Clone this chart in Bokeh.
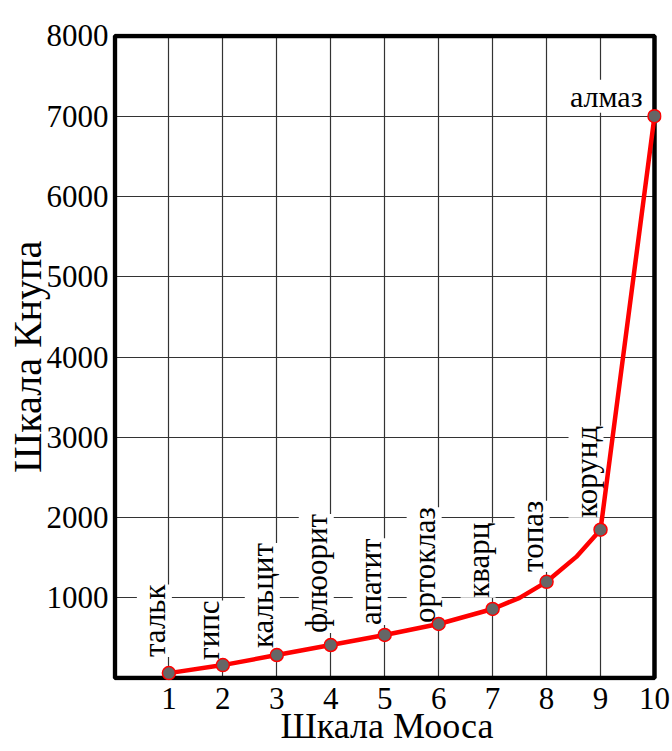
import math
from bokeh.plotting import figure
from bokeh.models import Range1d, FixedTicker, ColumnDataSource, LabelSet, Label, BoxAnnotation
from bokeh.embed import file_html
from bokeh.resources import INLINE

# data
mohs = [1, 2, 3, 4, 5, 6, 7, 8, 9, 10]
knoop = [62, 162, 287, 412, 537, 674, 861, 1199, 1848, 7000]
minerals = ["тальк", "гипс", "кальцит", "флюорит", "апатит",
            "ортоклаз", "кварц", "топаз", "корунд", "алмаз"]
# red curve
curve_x = [1, 2, 3, 4, 5, 6, 7, 7.5, 8, 8.55, 9, 10]
curve_y = [62, 162, 287, 412, 537, 674, 861, 1000, 1199, 1510, 1848, 7000]
# where each rotated name starts (Knoop units)
label_start = [262, 225, 375, 562, 662, 687, 1000, 1323, 1998]

x_ticks = [1, 2, 3, 4, 5, 6, 7, 8, 9, 10]
y_ticks = [1000, 2000, 3000, 4000, 5000, 6000, 7000, 8000]
x_lo, x_hi = 0, 10
y_lo, y_hi = 0, 8000

FONT = "Liberation Serif"

p = figure(width=672, height=751, output_backend="svg", toolbar_location=None,
           x_range=Range1d(-0.045, 10.13), y_range=Range1d(-30, 8030),
           min_border_left=112, min_border_right=11,
           min_border_top=33, min_border_bottom=71,
           background_fill_color="white", border_fill_color="white")

p.outline_line_color = None

for axes in (p.xaxis, p.yaxis):
    axes.axis_line_color = None
    axes.major_tick_line_color = None
    axes.minor_tick_line_color = None
    axes.major_tick_out = 0
    axes.major_tick_in = 0
    axes.minor_tick_out = 0
    axes.minor_tick_in = 0
    axes.major_label_text_font = FONT
    axes.major_label_text_font_size = "31px"
    axes.major_label_text_font_style = "normal"
    axes.major_label_text_color = "black"
    axes.axis_label_text_font = FONT
    axes.axis_label_text_font_style = "normal"
    axes.axis_label_text_color = "black"

p.xaxis.axis_label_text_font_size = "36px"
p.yaxis.axis_label_text_font_size = "40px"
p.xaxis.ticker = FixedTicker(ticks=x_ticks)
p.yaxis.ticker = FixedTicker(ticks=y_ticks)
p.xaxis.axis_label = "Шкала Мооса"
p.yaxis.axis_label = "Шкала Кнупа"
p.xaxis.major_label_standoff = 7
p.yaxis.major_label_standoff = 4
p.xaxis.axis_label_standoff = -6
p.yaxis.axis_label_standoff = -6

p.xgrid.ticker = FixedTicker(ticks=x_ticks[:-1])
p.ygrid.ticker = FixedTicker(ticks=y_ticks[:-1])
p.xgrid.cross_bounds = (y_lo, y_hi)
p.ygrid.cross_bounds = (x_lo, x_hi)
for g in (p.xgrid[0], p.ygrid[0]):
    g.grid_line_color = "#333333"
    g.grid_line_width = 1.2
    g.grid_line_alpha = 1.0

# frame
p.add_layout(BoxAnnotation(left=x_lo, right=x_hi, bottom=y_lo, top=y_hi,
                           fill_alpha=0, fill_color=None,
                           line_color="black", line_alpha=1.0, line_width=4.5,
                           level="underlay"))

# rotated mineral names (white background hides the grid)
lsrc = ColumnDataSource(dict(x=mohs[:9], y=label_start, t=minerals[:9]))
labels = LabelSet(x="x", y="y", text="t", source=lsrc, angle=math.pi / 2,
                  text_align="left", text_baseline="alphabetic", x_offset=-4,
                  text_font=FONT, text_font_size="31px", text_color="black",
                  background_fill_color="white", level="underlay")
p.add_layout(labels)

p.add_layout(Label(x=mohs[9], y=knoop[9], text=minerals[9], x_offset=-12, y_offset=20,
                   text_align="right", text_baseline="alphabetic",
                   text_font=FONT, text_font_size="30px", text_color="black",
                   background_fill_color="white", level="underlay"))

p.line(curve_x, curve_y, line_color="#ff0000", line_width=4.5)
p.scatter(mohs, knoop, size=13, fill_color="#666666", line_color="#ff0000",
          line_width=1.5)

open("out.html", "w").write(file_html(p, INLINE))
